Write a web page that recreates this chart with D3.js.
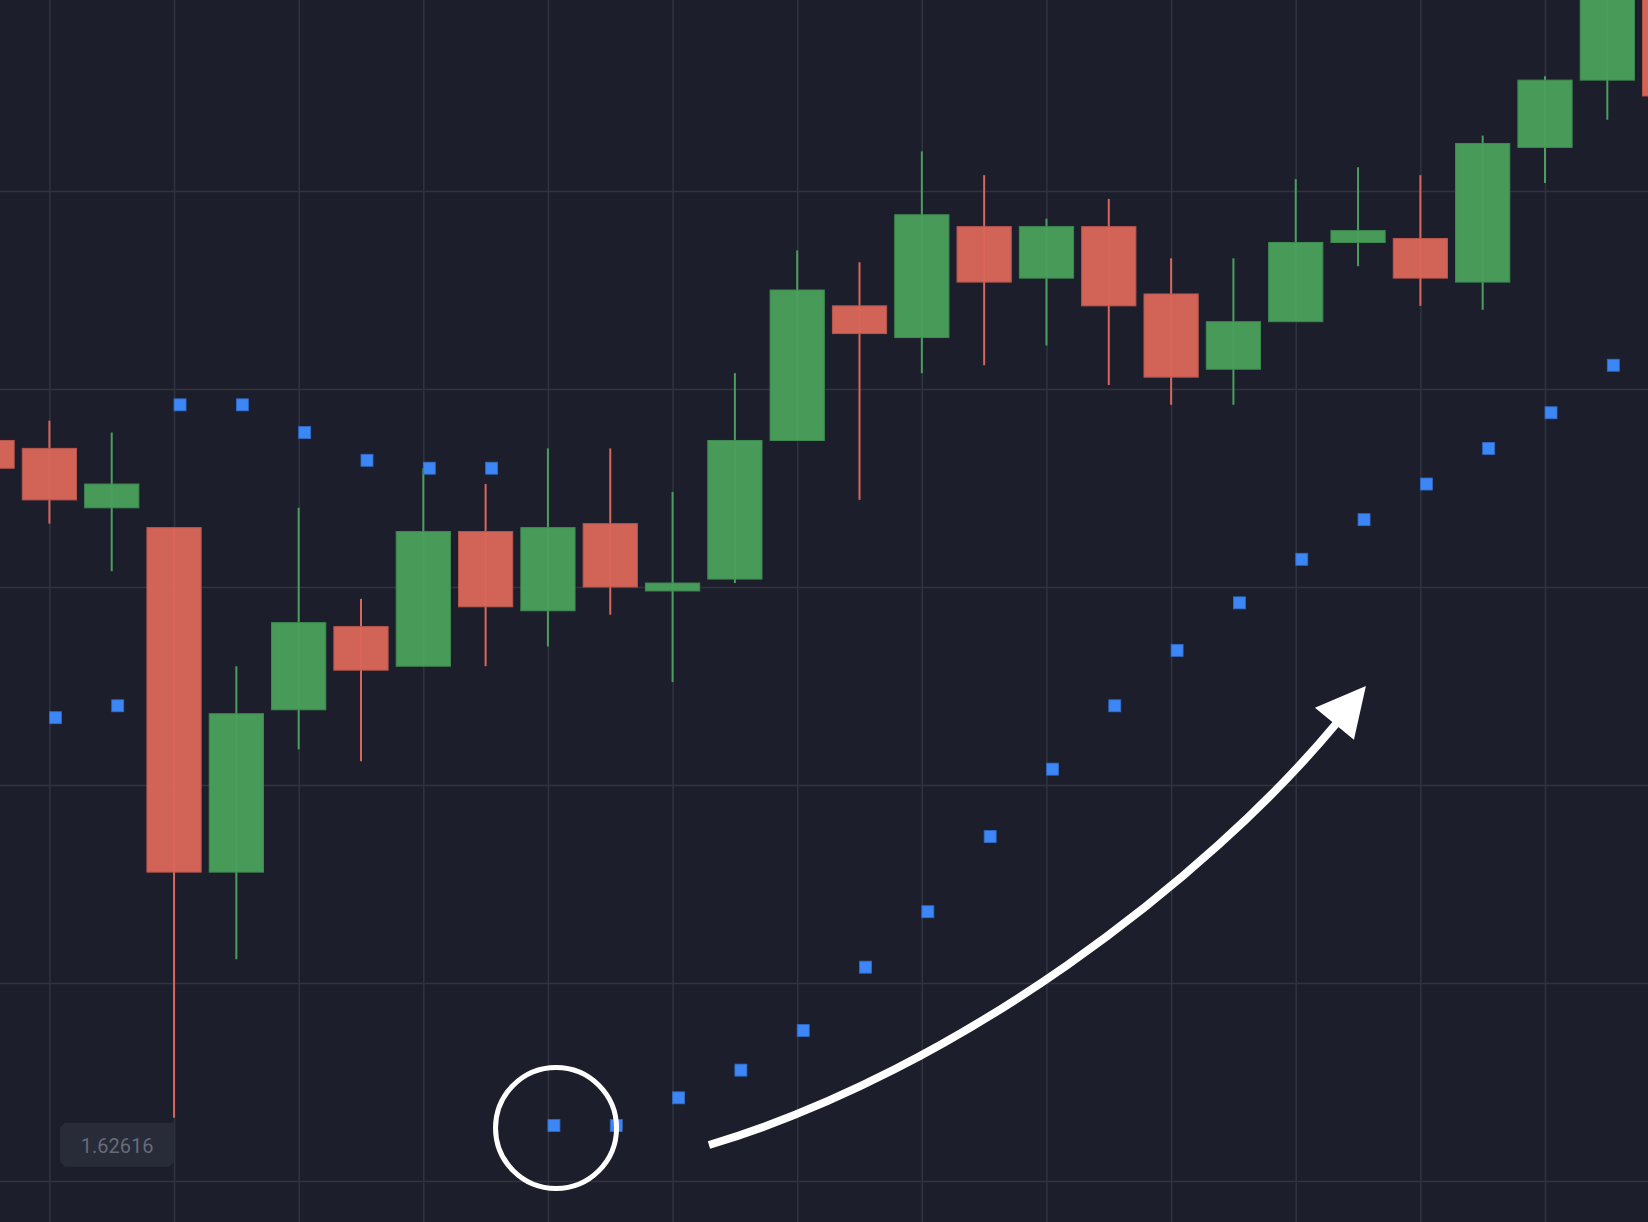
<!DOCTYPE html>
<html>
<head>
<meta charset="utf-8">
<script src="https://cdn.jsdelivr.net/npm/d3@7"></script>
<style>
  html, body { margin: 0; padding: 0; background: #1c1f2b; overflow: hidden; }
  svg { display: block; }
</style>
</head>
<body>
<svg id="chart" width="1648" height="1222"></svg>
<script>
// bar -1 is cut by the left edge, bar 26 by the right edge
const bars = d3.range(-1, 27);

const opens = [1.62787, 1.62785, 1.62770, 1.62765, 1.62678, 1.62719, 1.62740, 1.62730,
  1.62764, 1.62744, 1.62766, 1.62749, 1.62752, 1.62787, 1.62821, 1.62813, 1.62841,
  1.62828, 1.62841, 1.62824, 1.62805, 1.62817, 1.62837, 1.62838, 1.62827, 1.62861,
  1.62878, 1.62901];
const highs = [1.62791, 1.62792, 1.62789, 1.62765, 1.62730, 1.62770, 1.62747, 1.62780,
  1.62776, 1.62785, 1.62785, 1.62774, 1.62804, 1.62835, 1.62832, 1.62860, 1.62854,
  1.62843, 1.62848, 1.62833, 1.62833, 1.62853, 1.62856, 1.62854, 1.62864, 1.62879,
  1.62906, 1.62905];
const lows = [1.62777, 1.62766, 1.62754, 1.62616, 1.62656, 1.62709, 1.62706, 1.62730,
  1.62730, 1.62735, 1.62743, 1.62726, 1.62751, 1.62787, 1.62772, 1.62804, 1.62806,
  1.62811, 1.62801, 1.62796, 1.62796, 1.62817, 1.62831, 1.62821, 1.62820, 1.62852,
  1.62868, 1.62868];
const closes = [1.62780, 1.62772, 1.62776, 1.62678, 1.62718, 1.62741, 1.62729, 1.62764,
  1.62745, 1.62765, 1.62750, 1.62751, 1.62787, 1.62825, 1.62814, 1.62844, 1.62827,
  1.62841, 1.62821, 1.62803, 1.62817, 1.62837, 1.62840, 1.62828, 1.62862, 1.62878,
  1.62902, 1.62874];

// parabolic SAR dots, one per bar (none on the two cut bars)
const sar = [null, 1.62717, 1.62720, 1.62796, 1.62796, 1.62789, 1.62782, 1.62780,
  1.62780, 1.62614, 1.62614, 1.62621, 1.62628, 1.62638, 1.62654, 1.62668, 1.62687,
  1.62704, 1.62720, 1.62734, 1.62746, 1.62757, 1.62767, 1.62776, 1.62785, 1.62794,
  1.62806, null];

const gridPrices = [1.6260, 1.6265, 1.6270, 1.6275, 1.6280, 1.6285];
const gridBars = [0, 2, 4, 6, 8, 10, 12, 14, 16, 18, 20, 22, 24];

// hand-drawn annotations, in [bar, price]
const ring = [8.13, 1.626134];
// start, control 1, control 2, end of the arrow's curve
const arrowCurve = [[10.584, 1.626091], [14.596, 1.626280], [18.559, 1.626760], [20.645, 1.627154]];
const arrowHead = [[21.126, 1.627250], [20.308, 1.627195], [20.934, 1.627114]];

const W = 1648, H = 1222;
const col = { bg: '#1c1f2b', grid: '#30343f', up: '#4a9f5c', down: '#d9665a',
  upEdge: '#3f8a50', downEdge: '#b9574d', sar: '#3c87f5', label: '#282b38', labelText: '#666b7b' };

const svg = d3.select('#chart');

const x = d3.scaleLinear().domain([0, 24]).range([49.4, 1545]);
const y = d3.scaleLinear().domain([1.6260, 1.6285]).range([1181, 191]);
const step = x(1) - x(0);
const bodyW = step * 0.87;

svg.append('rect').attr('width', W).attr('height', H).attr('fill', col.bg);

// grid
svg.append('g')
  .call(d3.axisLeft(y).tickValues(gridPrices).tickSize(-W).tickFormat(''))
  .call(g => g.select('.domain').remove())
  .call(g => g.selectAll('line').attr('stroke', col.grid).attr('stroke-width', 1.5));

svg.append('g')
  .call(d3.axisBottom(x).tickValues(gridBars).tickSize(H).tickFormat(''))
  .call(g => g.select('.domain').remove())
  .call(g => g.selectAll('line').attr('stroke', col.grid).attr('stroke-width', 1.5));

// candles
const candles = bars.map((b, k) => ({ b, o: opens[k], h: highs[k], l: lows[k], c: closes[k], s: sar[k] }));

const cg = svg.append('g').selectAll('g')
  .data(candles)
  .enter()
  .append('g');

cg.append('line')
  .attr('x1', d => x(d.b))
  .attr('x2', d => x(d.b))
  .attr('y1', d => y(d.h))
  .attr('y2', d => y(d.l))
  .attr('stroke', d => d.c >= d.o ? col.up : col.down)
  .attr('stroke-width', 2);

cg.append('rect')
  .attr('x', d => x(d.b) - bodyW / 2)
  .attr('y', d => y(Math.max(d.o, d.c)))
  .attr('width', bodyW)
  .attr('height', d => Math.max(1, Math.abs(y(d.o) - y(d.c))))
  .attr('fill', d => d.c >= d.o ? col.up : col.down)
  .attr('fill-opacity', 0.96)
  .attr('stroke', d => d.c >= d.o ? col.upEdge : col.downEdge)
  .attr('stroke-width', 1);

// SAR dots
svg.append('g').selectAll('rect')
  .data(candles.filter(d => d.s != null))
  .enter()
  .append('rect')
  .attr('x', d => x(d.b))
  .attr('y', d => y(d.s) - 6)
  .attr('width', 12)
  .attr('height', 12)
  .attr('fill', col.sar)
  .attr('stroke', '#2f6bc9')
  .attr('stroke-width', 0.8);

// low price label under the long wick
const lowBar = candles.find(d => d.b === 2);
const R = x(lowBar.b), L = R - 114, T = y(lowBar.l) + 5, B = T + 44, bev = 5;
svg.append('path')
  .attr('d', `M${L + bev},${T} L${R},${T} L${R},${B - bev} L${R - bev},${B} L${L + bev},${B} L${L},${B - bev} L${L},${T + bev} Z`)
  .attr('fill', col.label);
svg.append('text')
  .attr('x', (L + R) / 2)
  .attr('y', (T + B) / 2 + 1)
  .attr('text-anchor', 'middle')
  .attr('dominant-baseline', 'central')
  .attr('font-family', 'Roboto, sans-serif')
  .attr('font-size', 20)
  .attr('fill', col.labelText)
  .text(d3.format('.5f')(lowBar.l));

// annotations
svg.append('circle')
  .attr('cx', x(ring[0]))
  .attr('cy', y(ring[1]))
  .attr('r', 60.5)
  .attr('fill', 'none')
  .attr('stroke', '#ffffff')
  .attr('stroke-width', 5);

const pts = arrowCurve.map(d => [x(d[0]), y(d[1])]);
const curve = d3.path();
curve.moveTo(pts[0][0], pts[0][1]);
curve.bezierCurveTo(pts[1][0], pts[1][1], pts[2][0], pts[2][1], pts[3][0], pts[3][1]);

svg.append('path')
  .attr('d', curve.toString())
  .attr('fill', 'none')
  .attr('stroke', '#ffffff')
  .attr('stroke-width', 8);

svg.append('polygon')
  .attr('points', arrowHead.map(d => `${x(d[0])},${y(d[1])}`).join(' '))
  .attr('fill', '#ffffff');
</script>
</body>
</html>
